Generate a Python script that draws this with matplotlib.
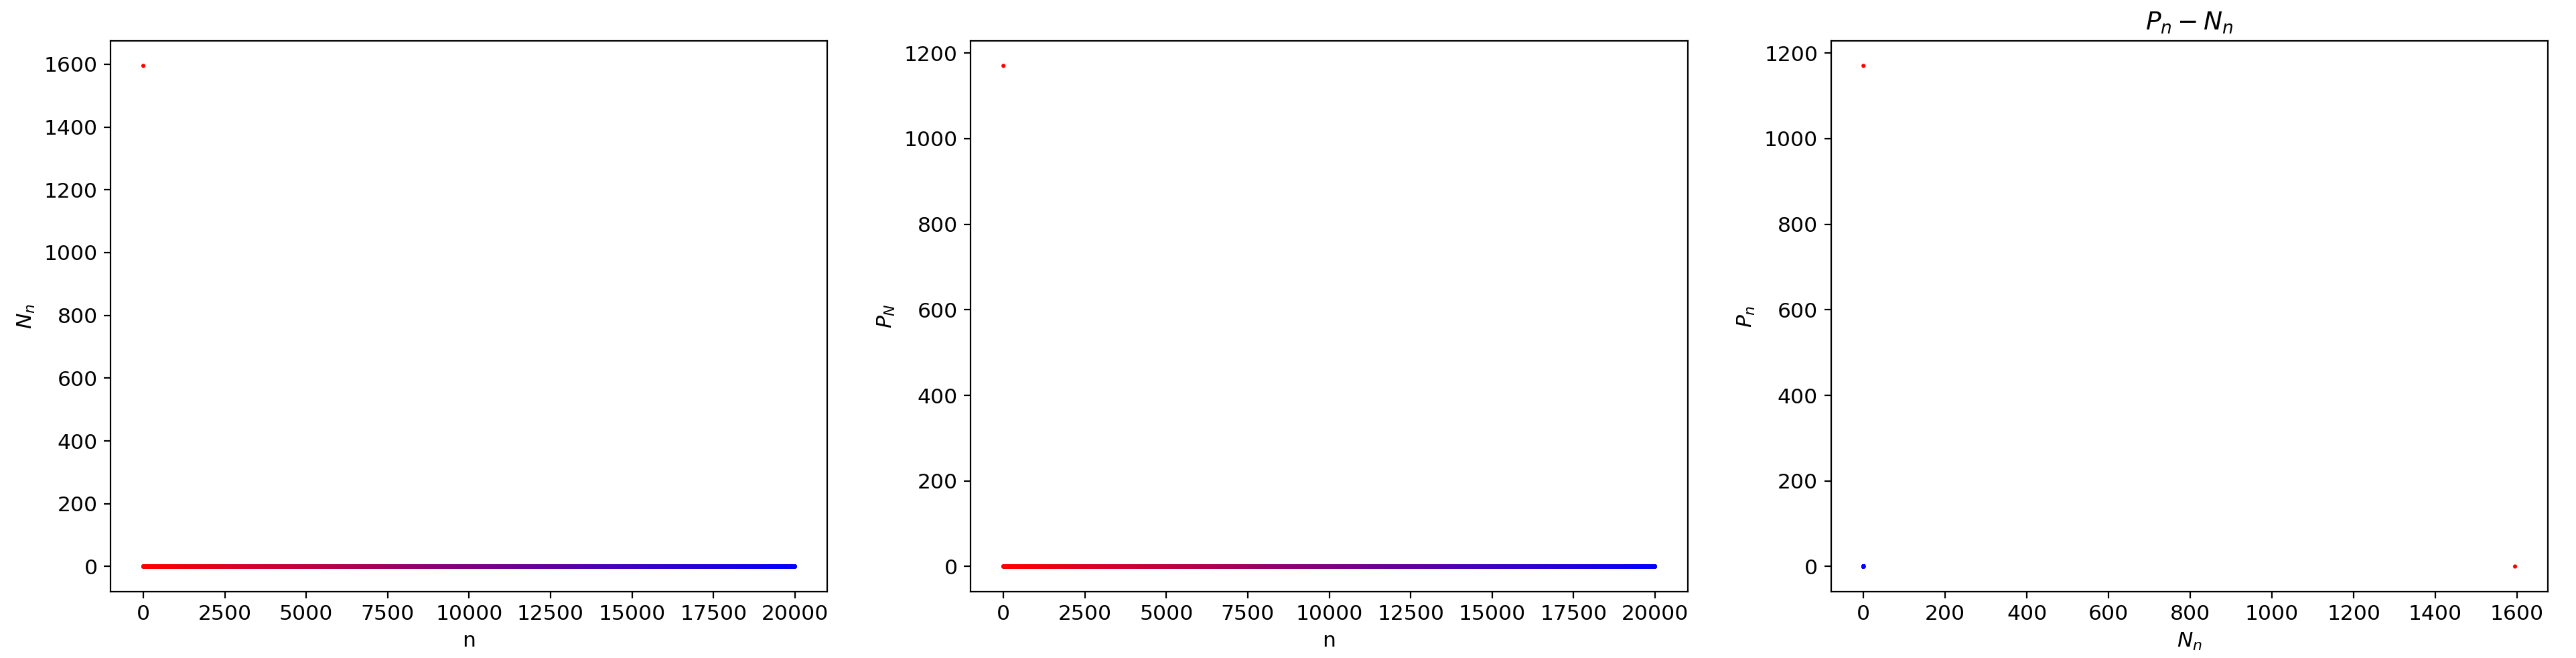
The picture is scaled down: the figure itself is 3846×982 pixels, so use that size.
import numpy as np
import matplotlib
matplotlib.use("Agg")
import matplotlib.pyplot as plt

# ---- data ----
n_count = 20001                    # n runs from 0 to 20000
N_head = [1595.0, 0.0]             # first values of N_n
P_head = [0.0, 1170.0]             # first values of P_n
N_rest_value = 0.0                 # all later values sit at ~0
P_rest_value = 0.0

n = np.arange(n_count)
N_vals = np.concatenate([N_head, np.full(n_count - len(N_head), N_rest_value)])
P_vals = np.concatenate([P_head, np.full(n_count - len(P_head), P_rest_value)])

t = n / (n_count - 1)
colors = np.column_stack([1 - t, np.zeros_like(t), t])

plt.rcParams['font.size'] = 11.3

fig, axes = plt.subplots(1, 3, figsize=(19.23, 4.91), dpi=200)
fig.subplots_adjust(left=0.043, right=0.989, bottom=0.101, top=0.938, wspace=0.2)

ms = 5
ax = axes[0]
ax.scatter(n, N_vals, c=colors, s=ms, marker='o', linewidths=0)
ax.set_xlabel("n")
ax.set_ylabel("$N_n$")

ax = axes[1]
ax.scatter(n, P_vals, c=colors, s=ms, marker='o', linewidths=0)
ax.set_xlabel("n")
ax.set_ylabel("$P_N$")

ax = axes[2]
ax.scatter(N_vals, P_vals, c=colors, s=ms, marker='o', linewidths=0)
ax.set_xlabel("$N_n$")
ax.set_ylabel("$P_n$")
ax.set_title("$P_n - N_n$")

fig.savefig("out.png", dpi=200)
